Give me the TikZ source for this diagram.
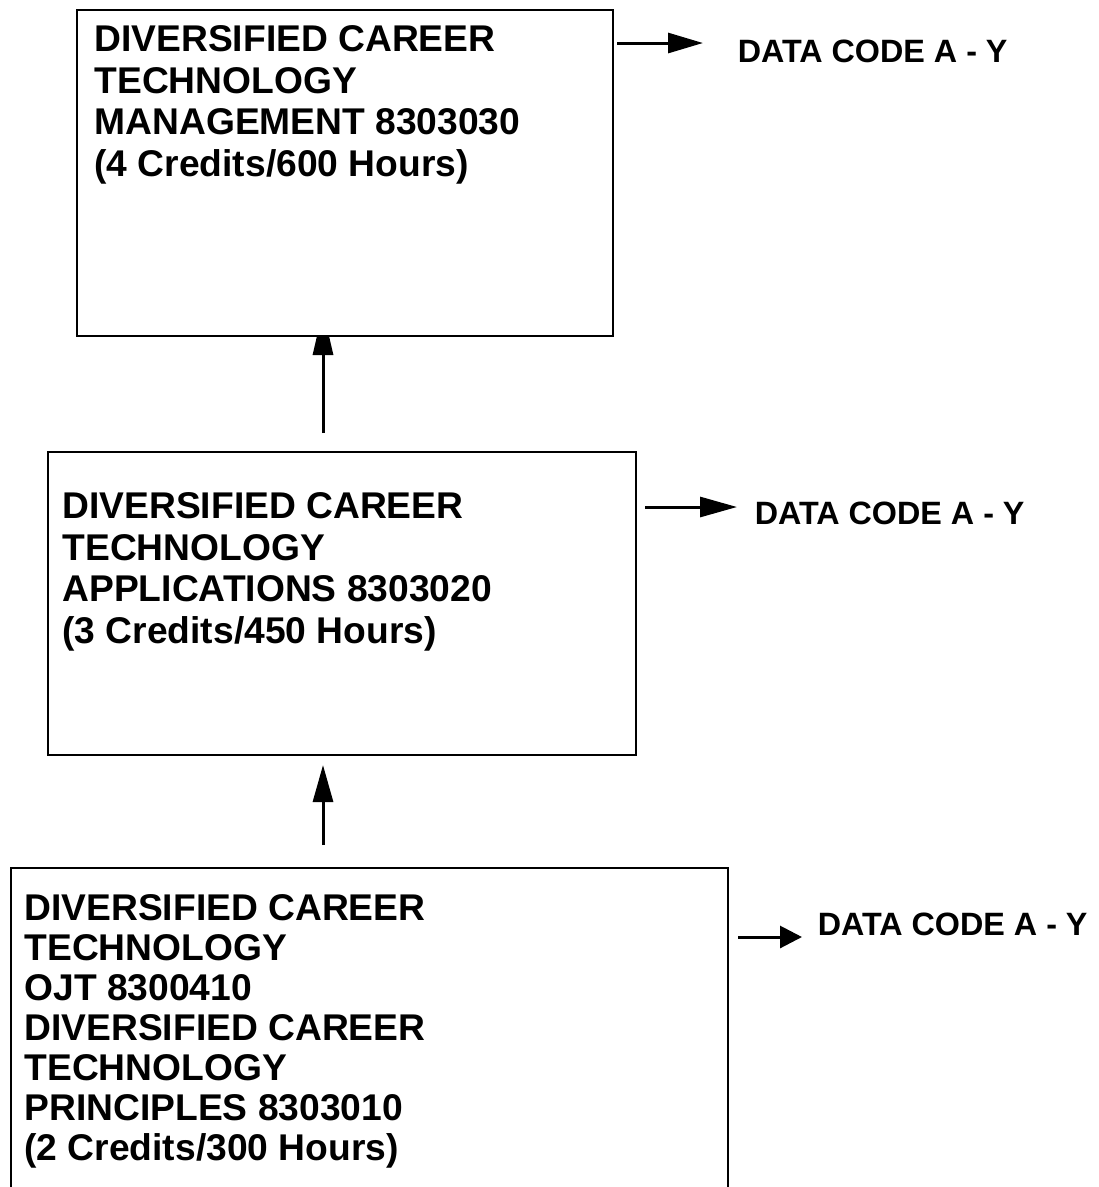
\documentclass[tikz,border=0pt]{standalone}
\usepackage{fontspec}
\setmainfont{Liberation Sans}
\usetikzlibrary{arrows.meta,backgrounds}
\begin{document}
\begin{tikzpicture}[x=1pt,y=-1pt,
  box/.style={draw=black,line width=2pt,fill=white,inner sep=0pt,anchor=north west},
  txt/.style={font={\fontsize{37.2pt}{41.5pt}\selectfont\bfseries},align=left,inner sep=0pt,anchor=north west},
  txtb/.style={font={\fontsize{37.2pt}{40pt}\selectfont\bfseries},align=left,inner sep=0pt,anchor=north west},
  lbl/.style={font={\fontsize{32.3pt}{36pt}\selectfont\bfseries},inner sep=0pt,anchor=base west},
  conn/.style={line width=3pt,draw=black}]
\useasboundingbox (0,0) rectangle (1099,1187);
\clip (0,0) rectangle (1099,1187);

% boxes
\node[box,minimum width=536pt,minimum height=326pt] (b1) at (76,9) {};
\node[box,minimum width=588pt,minimum height=303pt] (b2) at (47,451) {};
\node[box,minimum width=717pt,minimum height=400pt] (b3) at (10,867) {};

% box texts
\node[txt] (x1) at (94.3,25.5) {DIVERSIFIED CAREER\\TECHNOLOGY\\MANAGEMENT 8303030\\(4 Credits/600 Hours)};
\node[txt] (x2) at (62.3,492.5) {DIVERSIFIED CAREER\\TECHNOLOGY\\APPLICATIONS 8303020\\(3 Credits/450 Hours)};
\node[txtb] (x3) at (24.3,894.5) {DIVERSIFIED CAREER\\TECHNOLOGY\\OJT 8300410\\DIVERSIFIED CAREER\\TECHNOLOGY\\PRINCIPLES 8303010\\(2 Credits/300 Hours)};

% data code labels
\node[lbl] (d1) at (737.6,62) {DATA CODE A - Y};
\node[lbl] (d2) at (754.6,524) {DATA CODE A - Y};
\node[lbl] (d3) at (817.6,935) {DATA CODE A - Y};

% connector end points
\coordinate (t1) at (323,433);
\coordinate (t2) at (323,845);
\coordinate (s1) at (617,43);
\coordinate (e1) at (703,43);
\coordinate (s2) at (645,507);
\coordinate (e2) at (737,507);
\coordinate (s3) at (738,937);
\coordinate (e3) at (802,937);

\begin{scope}[on background layer]
\fill[white] (0,0) rectangle (1099,1187);
\draw[conn,-{Triangle[length=45pt,width=20pt]},shorten >=-27pt] (t1) -- (t1 |- b1.south);
\end{scope}
\draw[conn,-{Triangle[length=37pt,width=20pt]},shorten >=9pt] (t2) -- (t2 |- b2.south);
\draw[conn,-{Triangle[length=35pt,width=20pt]}] (s1) -- (e1);
\draw[conn,-{Triangle[length=37pt,width=20pt]}] (s2) -- (e2);
\draw[conn,-{Triangle[length=22pt,width=22pt]}] (s3) -- (e3);
\end{tikzpicture}
\end{document}
